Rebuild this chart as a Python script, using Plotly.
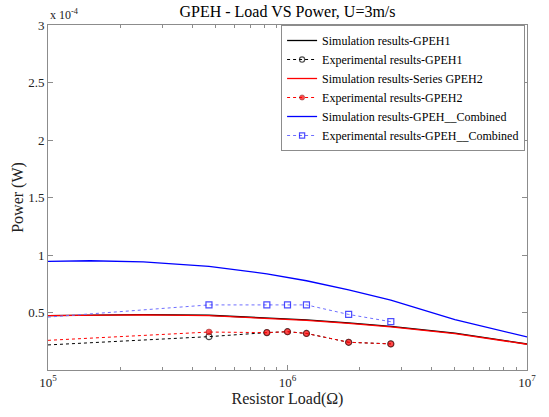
import plotly.graph_objects as go

# Resistor loads (ohm)
R_sim = [1e5, 1.5e5, 2.5e5, 4.7e5, 8.2e5, 1e6, 1.2e6, 1.8e6, 2.7e6, 5e6, 1e7]
R_exp = [1e5, 4.7e5, 8.2e5, 1e6, 1.2e6, 1.8e6, 2.7e6]

# Power values (W)
sim_gpeh1 = [0.472e-4, 0.478e-4, 0.481e-4, 0.476e-4, 0.456e-4, 0.447e-4, 0.436e-4, 0.410e-4, 0.380e-4, 0.320e-4, 0.226e-4]
sim_gpeh2 = [0.472e-4, 0.478e-4, 0.480e-4, 0.472e-4, 0.452e-4, 0.443e-4, 0.432e-4, 0.406e-4, 0.375e-4, 0.316e-4, 0.224e-4]
sim_comb = [0.944e-4, 0.950e-4, 0.940e-4, 0.901e-4, 0.836e-4, 0.807e-4, 0.776e-4, 0.696e-4, 0.608e-4, 0.438e-4, 0.287e-4]

exp_gpeh1 = [0.218e-4, 0.290e-4, 0.325e-4, 0.333e-4, 0.318e-4, 0.241e-4, 0.227e-4]
exp_gpeh2 = [0.258e-4, 0.330e-4, 0.325e-4, 0.333e-4, 0.318e-4, 0.241e-4, 0.227e-4]
exp_comb = [0.460e-4, 0.566e-4, 0.566e-4, 0.566e-4, 0.566e-4, 0.483e-4, 0.420e-4]

names = [
    "Simulation results-GPEH1",
    "Experimental results-GPEH1",
    "Simulation results-Series GPEH2",
    "Experimental results-GPEH2",
    "Simulation results-GPEH__Combined",
    "Experimental results-GPEH__Combined",
]

y_tickvals = [0.5e-4, 1e-4, 1.5e-4, 2e-4, 2.5e-4, 3e-4]
y_ticktext = ["0.5", "1", "1.5", "2", "2.5", "3"]
x_tickvals = [1e5, 1e6, 1e7]
x_ticktext = ["10<sup>5</sup>", "10<sup>6</sup>", "10<sup>7</sup>"]
x_minor = [m * 10 ** e for e in (5, 6) for m in range(2, 10)]

msize = [0] + [6] * (len(R_exp) - 1)

FONT = "Liberation Serif"
fig = go.Figure()
fig.add_trace(go.Scatter(x=R_sim, y=sim_gpeh1, mode="lines", name=names[0],
                         line=dict(color="black", width=1.3)))
fig.add_trace(go.Scatter(x=R_exp, y=exp_gpeh1, mode="lines+markers", name=names[1],
                         line=dict(color="black", width=1, dash="dot"),
                         marker=dict(symbol="circle-open", size=msize, color="black", line=dict(width=1.2))))
fig.add_trace(go.Scatter(x=R_sim, y=sim_gpeh2, mode="lines", name=names[2],
                         line=dict(color="red", width=1.3)))
fig.add_trace(go.Scatter(x=R_exp, y=exp_gpeh2, mode="lines+markers", name=names[3],
                         line=dict(color="red", width=1, dash="dot"),
                         marker=dict(symbol="circle", size=msize, color="red", line=dict(width=0.6, color="#600000"))))
fig.add_trace(go.Scatter(x=R_sim, y=sim_comb, mode="lines", name=names[4],
                         line=dict(color="blue", width=1.3)))
fig.add_trace(go.Scatter(x=R_exp, y=exp_comb, mode="lines+markers", name=names[5],
                         line=dict(color="#6f6fff", width=1, dash="dot"),
                         marker=dict(symbol="square-open", size=msize, color="blue", line=dict(width=1.2))))

axis_common = dict(showline=True, linecolor="#8c8c8c", linewidth=1, mirror="ticks",
                   ticks="inside", ticklen=5, tickcolor="#8c8c8c", showgrid=False, zeroline=False,
                   tickfont=dict(family=FONT, size=13, color="#222"))

fig.update_xaxes(type="log", range=[5, 7], tickmode="array", tickvals=x_tickvals, ticktext=x_ticktext,
                 minor=dict(ticks="inside", ticklen=3, tickcolor="#8c8c8c", tickmode="array", tickvals=x_minor),
                 title=dict(text="Resistor Load(Ω)", font=dict(family=FONT, size=16, color="#222"), standoff=4),
                 **axis_common)
fig.update_yaxes(range=[0, 3e-4], tickmode="array", tickvals=y_tickvals, ticktext=y_ticktext,
                 title=dict(text="Power (W)", font=dict(family=FONT, size=16, color="#222"), standoff=0),
                 **axis_common)

fig.update_layout(
    width=549, height=417,
    margin=dict(l=48, r=22, t=25, b=42),
    paper_bgcolor="white", plot_bgcolor="white",
    title=dict(text="GPEH - Load VS Power, U=3m/s", x=0.5, xref="paper", xanchor="center",
               y=0.972, yanchor="middle",
               font=dict(family=FONT, size=16, color="black")),
    font=dict(family=FONT, color="black"),
    legend=dict(x=0.996, y=1.0, xanchor="right", yanchor="top", bgcolor="white",
                bordercolor="#8c8c8c", borderwidth=1, font=dict(family=FONT, size=12),
                tracegroupgap=0, itemwidth=30),
    annotations=[dict(text="x 10<sup>-4</sup>", x=0, y=1, xref="paper", yref="paper",
                      xanchor="left", yanchor="bottom", showarrow=False, yshift=1,
                      font=dict(family=FONT, size=12, color="#222"))],
    showlegend=True,
)

fig.write_html("out.html")
